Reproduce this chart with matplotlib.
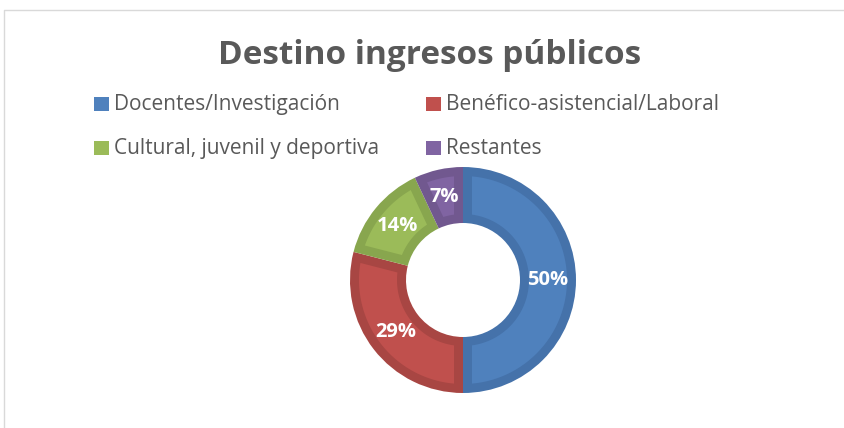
import numpy as np
import matplotlib.pyplot as plt
from matplotlib.patches import Polygon, Rectangle

categories = ["Docentes/Investigación", "Benéfico-asistencial/Laboral",
              "Cultural, juvenil y deportiva", "Restantes"]
values = [50, 29, 14, 7]
fill_colors = ["#4F81BD", "#C0504D", "#9BBB59", "#8064A2"]
edge_colors = ["#4572AA", "#A84643", "#88A64E", "#71588F"]

W, H = 845, 428
CX, CY = 463, H - 280
R_OUT, R_IN = 113, 57
BAND = 9

plt.rcParams['font.family'] = ['Open Sans', 'DejaVu Sans']

fig = plt.figure(figsize=(W / 100, H / 100), dpi=100)
ax = fig.add_axes([0, 0, 1, 1])

wedges, _ = ax.pie(values, colors=edge_colors, startangle=90, counterclock=False,
                   center=(CX, CY), radius=R_OUT,
                   wedgeprops=dict(width=R_OUT - R_IN, linewidth=0))
ax.set_xlim(0, W)
ax.set_ylim(0, H)
ax.set_aspect('equal')
ax.axis('off')


def inner_poly(t1, t2, r_in, r_out, d):
    # lighter inset shape, sides kept parallel to the slice edges
    ro, ri = r_out - d, r_in + d
    do, di = np.degrees(np.arcsin(d / ro)), np.degrees(np.arcsin(d / ri))
    pts = []
    for t in np.linspace(t1 + do, t2 - do, 60):
        pts.append((CX + ro * np.cos(np.radians(t)), CY + ro * np.sin(np.radians(t))))
    for t in np.linspace(t2 - di, t1 + di, 60):
        pts.append((CX + ri * np.cos(np.radians(t)), CY + ri * np.sin(np.radians(t))))
    return pts


mid_r = (R_OUT + R_IN) / 2
for w, c, v in zip(wedges, fill_colors, values):
    ax.add_patch(Polygon(inner_poly(w.theta1, w.theta2, R_IN, R_OUT, BAND),
                         closed=True, facecolor=c, edgecolor='none'))
    m = np.radians((w.theta1 + w.theta2) / 2)
    ax.text(CX + mid_r * np.cos(m), CY + mid_r * np.sin(m), f"{v}%",
            ha='center', va='center', color='white', fontsize=14.5, fontweight='bold')

# chart frame
ax.plot([4, 4, W], [0, H - 10, H - 10], color='#D9D9D9', lw=1, solid_capstyle='butt')

ax.text(430, H - 55, "Destino ingresos públicos", ha='center', va='center',
        fontsize=24, fontweight='bold', color='#595959')

leg_pos = [(94, 104), (426, 104), (94, 148), (426, 148)]
for (x, y), lab, c in zip(leg_pos, categories, fill_colors):
    ax.add_patch(Rectangle((x, H - y - 7), 15, 14, facecolor=c, edgecolor='none'))
    ax.text(x + 20, H - y, lab, ha='left', va='center', fontsize=15, color='#595959')

fig.savefig('out.png', dpi=100)
